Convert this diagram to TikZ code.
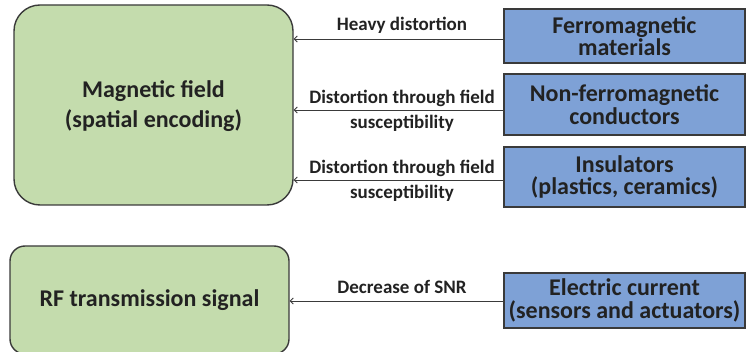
\documentclass[tikz,border=0pt]{standalone}
\usepackage{fontspec}
\setmainfont{Carlito}
\usetikzlibrary{arrows.meta}
\definecolor{gbox}{HTML}{C4DCAD}
\definecolor{bbox}{HTML}{7EA1D6}
\definecolor{ink}{HTML}{222222}
\definecolor{edge}{HTML}{3A3A3A}
\tikzset{
  greenbox/.style={draw=edge, line width=1.4pt, fill=gbox, rounded corners=#1, align=center, text=ink, font=\bfseries\fontsize{24}{30}\selectfont, inner sep=0pt},
  bluebox/.style={draw=edge, line width=1.4pt, fill=bbox, align=center, text=ink, font=\bfseries\fontsize{24}{22.5}\selectfont, inner sep=0pt, minimum width=241pt},
  lbl/.style={align=center, text=ink, font=\bfseries\fontsize{19}{25}\selectfont, inner sep=0pt},
  arr/.style={draw=edge, line width=0.8pt, -{Straight Barb[length=3pt,width=6pt]}}
}
\begin{document}
\begin{tikzpicture}[x=1pt,y=-1pt]
\useasboundingbox (0,0) rectangle (746,352);
\node[greenbox=26pt, minimum width=279pt, minimum height=200pt, text depth=1pt] (mag) at (153.5,105) {Magnetic field\\(spatial encoding)};
\node[greenbox=15pt, minimum width=279pt, minimum height=108pt] (rf) at (149.5,300) {RF transmission signal};
\node[bluebox, minimum height=54pt] (ferro) at (624.5,36) {Ferromagnetic\\materials};
\node[bluebox, minimum height=61pt] (nonf) at (624.5,104.5) {Non-ferromagnetic\\conductors};
\node[bluebox, minimum height=60pt] (ins) at (624.5,177) {Insulators\\(plastics, ceramics)};
\node[bluebox, minimum height=55pt] (elec) at (624.5,300.5) {Electric current\\(sensors and actuators)};
\coordinate (y1) at (0,39);
\coordinate (y2) at (0,110);
\coordinate (y3) at (0,180);
\coordinate (y4) at (0,301);
\draw[arr] (ferro.west |- y1) -- (mag.east |- y1);
\draw[arr] (nonf.west |- y2) -- (mag.east |- y2);
\draw[arr] (ins.west |- y3) -- (mag.east |- y3);
\draw[arr] (elec.west |- y4) -- (rf.east |- y4);
\node[lbl] (l1) at (402,25) {Heavy distortion};
\node[lbl] (l2) at (402,110.5) {Distortion through field\\susceptibility};
\node[lbl] (l3) at (402,181) {Distortion through field\\susceptibility};
\node[lbl] (l4) at (402,287) {Decrease of SNR};
\end{tikzpicture}
\end{document}
